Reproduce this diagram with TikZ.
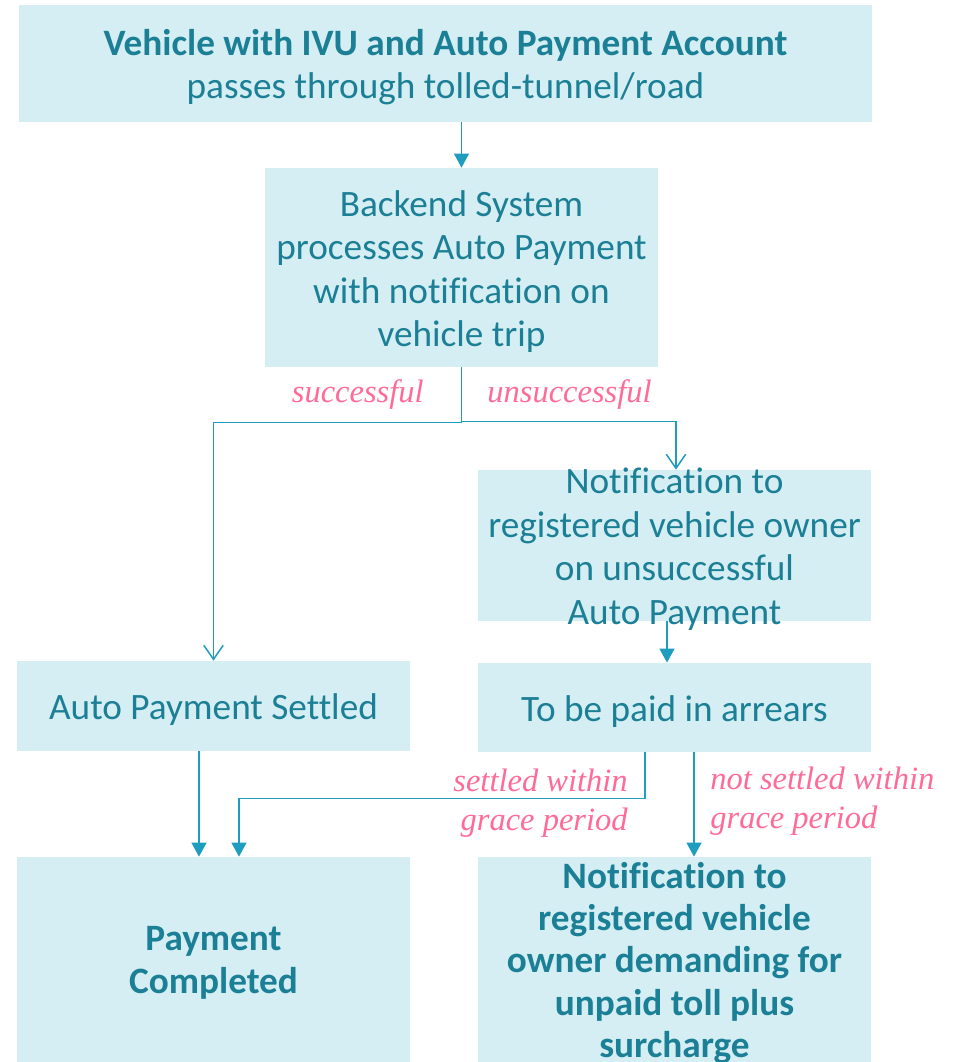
\documentclass[tikz,border=0pt]{standalone}
\usepackage{fontspec}
\setmainfont{Carlito}[Ligatures=NoCommon]
\newfontfamily\labelfont{Liberation Serif}
\usetikzlibrary{arrows.meta}

\definecolor{boxfill}{HTML}{D5EEF3}
\definecolor{boxtext}{HTML}{1B7F96}
\definecolor{flowline}{HTML}{1E9DBE}
\definecolor{condpink}{HTML}{FF6B98}

\tikzset{
  flowbox/.style={fill=boxfill, draw=none, inner sep=0pt, minimum width=7.86cm},
  flowtext/.style={text=boxtext, align=center, inner sep=0pt,
    font=\fontsize{21.2}{24.8}\selectfont},
  cond/.style={text=condpink, inner sep=0pt,
    font=\labelfont\itshape\fontsize{18.5}{22}\selectfont},
  flow/.style={draw=flowline, line width=0.85pt, -{Triangle[width=8.5pt,length=8pt]}},
  openflow/.style={draw=flowline, line width=0.85pt, -{Straight Barb[width=11pt,length=8pt]}}
}

\begin{document}
\begin{tikzpicture}[x=0.02cm, y=-0.02cm]
        \useasboundingbox (0,0) rectangle (964,1062);

        % boxes
        \node[flowbox, minimum width=17.06cm, minimum height=2.34cm] (start) at (445.5,63.5) {};
        \node[flowbox, minimum height=3.98cm] (backend) at (461.5,267.5) {};
        \node[flowbox, minimum height=3.02cm] (notif) at (674.5,545.5) {};
        \node[flowbox, minimum height=1.8cm] (settled) at (213.5,706) {};
        \node[flowbox, minimum height=1.78cm] (arrears) at (674.5,707.5) {};
        \node[flowbox, minimum height=4.16cm] (done) at (213.5,961) {};
        \node[flowbox, minimum height=4.16cm] (demand) at (674.5,961) {};

        % box texts
        \node[flowtext] (start-t) at (445.5,67) {\textbf{Vehicle with IVU and Auto Payment Account}\\passes through tolled-tunnel/road};
        \node[flowtext] (backend-t) at (461.5,271.5) {Backend System\\processes Auto Payment\\with notification on\\vehicle trip};
        \node[flowtext] (notif-t) at (674.5,549) {Notification to\\registered vehicle owner\\on unsuccessful\\Auto Payment};
        \node[flowtext] (settled-t) at (213.5,710) {Auto Payment Settled};
        \node[flowtext] (arrears-t) at (674.5,712) {To be paid in arrears};
        \node[flowtext, font=\bfseries\fontsize{21.2}{24.8}\selectfont] (done-t) at (213.5,963) {Payment\\Completed};
        \node[flowtext, font=\bfseries\fontsize{21.2}{24.1}\selectfont] (demand-t) at (674.5,963) {Notification to\\registered vehicle\\owner demanding for\\unpaid toll plus\\surcharge};

        % connectors
        \draw[flow] (backend.north |- start.south) -- (backend.north);
        \draw[openflow] (backend.south) -- ++(0,55) -| (settled.north);
        \draw[openflow] (backend.south) -- ++(0,54) -| ([xshift=0.03cm]notif.north);
        \draw[flow] ([xshift=-0.15cm]notif.south) -- ([xshift=-0.15cm]arrears.north);
        \draw[flow] ([xshift=-0.29cm]settled.south) -- ([xshift=-0.29cm]done.north);
        \draw[flow] ([xshift=-0.59cm]arrears.south) -- ++(0,46) -| ([xshift=0.51cm]done.north);
        \draw[flow] ([xshift=0.39cm]arrears.south) -- ([xshift=0.39cm]demand.north);

        % branch labels
        \node[cond, anchor=east] (ok) at (424,395) {successful};
        \node[cond, anchor=west] (fail) at (487,395) {unsuccessful};
        \node[cond, anchor=east, align=right] (ingrace) at (628,803) {settled within\\grace period};
        \node[cond, anchor=west, align=left] (outgrace) at (710,801) {not settled within\\grace period};
\end{tikzpicture}
\end{document}
